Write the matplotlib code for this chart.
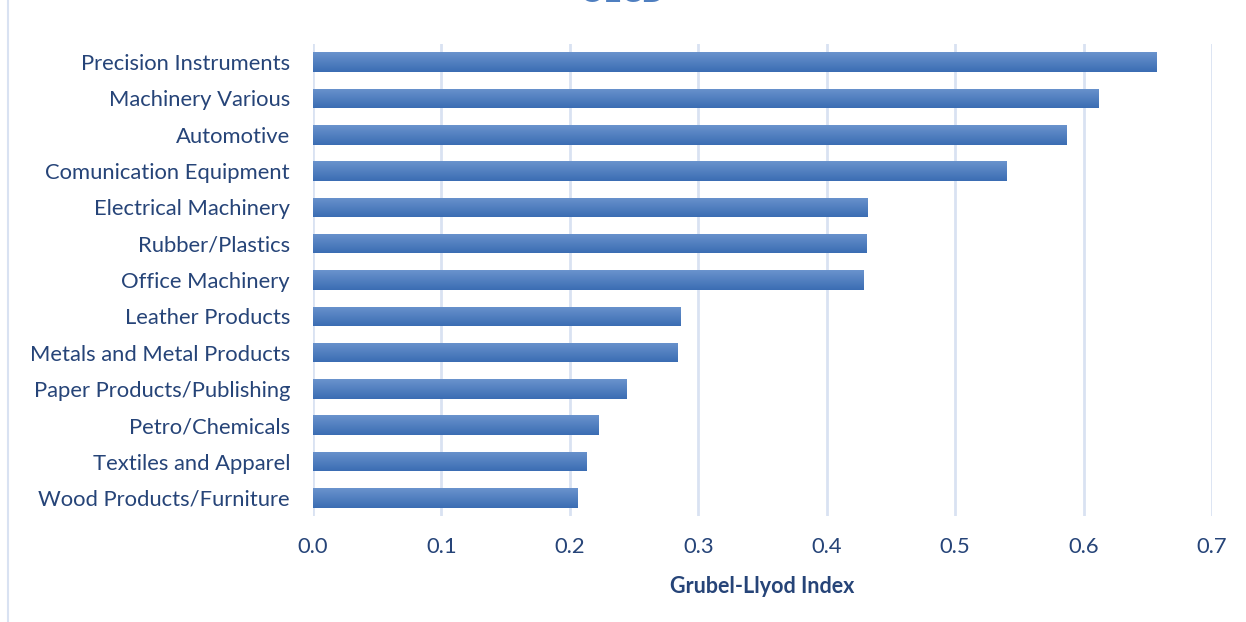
import numpy as np
import matplotlib
matplotlib.use('Agg')
import matplotlib.pyplot as plt
from matplotlib.colors import LinearSegmentedColormap

# data (top to bottom as in the picture)
industries = ['Precision Instruments', 'Machinery Various', 'Automotive',
              'Comunication Equipment', 'Electrical Machinery', 'Rubber/Plastics',
              'Office Machinery', 'Leather Products', 'Metals and Metal Products',
              'Paper Products/Publishing', 'Petro/Chemicals', 'Textiles and Apparel',
              'Wood Products/Furniture']
gl_index = [0.657, 0.612, 0.587, 0.540, 0.432, 0.431, 0.429,
            0.286, 0.284, 0.244, 0.222, 0.213, 0.206]
x_ticks = [0.0, 0.1, 0.2, 0.3, 0.4, 0.5, 0.6, 0.7]

text_col = '#264478'
grid_col = '#d9e2f2'

plt.rcParams['font.family'] = ['Lato', 'DejaVu Sans']

fig = plt.figure(figsize=(12.46, 6.22), dpi=100)
ax = fig.add_axes([313 / 1246, 1 - 516 / 622, (1212 - 313) / 1246, (516 - 44) / 622])

y = np.arange(len(industries))[::-1]
bars = ax.barh(y, gl_index, height=0.54, color='#4f7fc0', zorder=2)

# vertical gradient on each bar, lighter on top
cmap = LinearSegmentedColormap.from_list('g', ['#3b6db3', '#6a93cd'])
grad = np.linspace(0, 1, 64).reshape(-1, 1)
for b in bars:
    x0, y0 = b.get_x(), b.get_y()
    im = ax.imshow(grad, cmap=cmap, aspect='auto', origin='lower',
                   extent=[x0, x0 + b.get_width(), y0, y0 + b.get_height()], zorder=3)
    im.set_clip_path(b)

ax.set_xlim(0, 0.7)
ax.set_ylim(-0.5, len(industries) - 0.5)
ax.set_xticks(x_ticks)
ax.set_xticklabels([f'{t:.1f}' for t in x_ticks])
ax.set_yticks(y)
ax.set_yticklabels(industries)
ax.tick_params(axis='both', length=0, labelsize=15.8, colors=text_col)
ax.tick_params(axis='y', pad=16.5)
ax.tick_params(axis='x', pad=15)
ax.grid(axis='x', color=grid_col, linewidth=2, zorder=0)
for s in ax.spines.values():
    s.set_visible(False)

ax.set_xlabel('Grubel-Llyod Index', fontsize=15.5, fontweight='bold', color=text_col, labelpad=14)

# title mostly cut off at the top edge
fig.text(0.5, 1 - 2 / 622, 'OECD', ha='center', va='baseline', fontsize=22,
         fontweight='bold', color='#4f7fc0')

# chart area border on the left
fig.add_artist(plt.Line2D([8 / 1246, 8 / 1246], [0, 1], color=grid_col, linewidth=1.5))

fig.savefig('out.png', dpi=100, facecolor='white')
